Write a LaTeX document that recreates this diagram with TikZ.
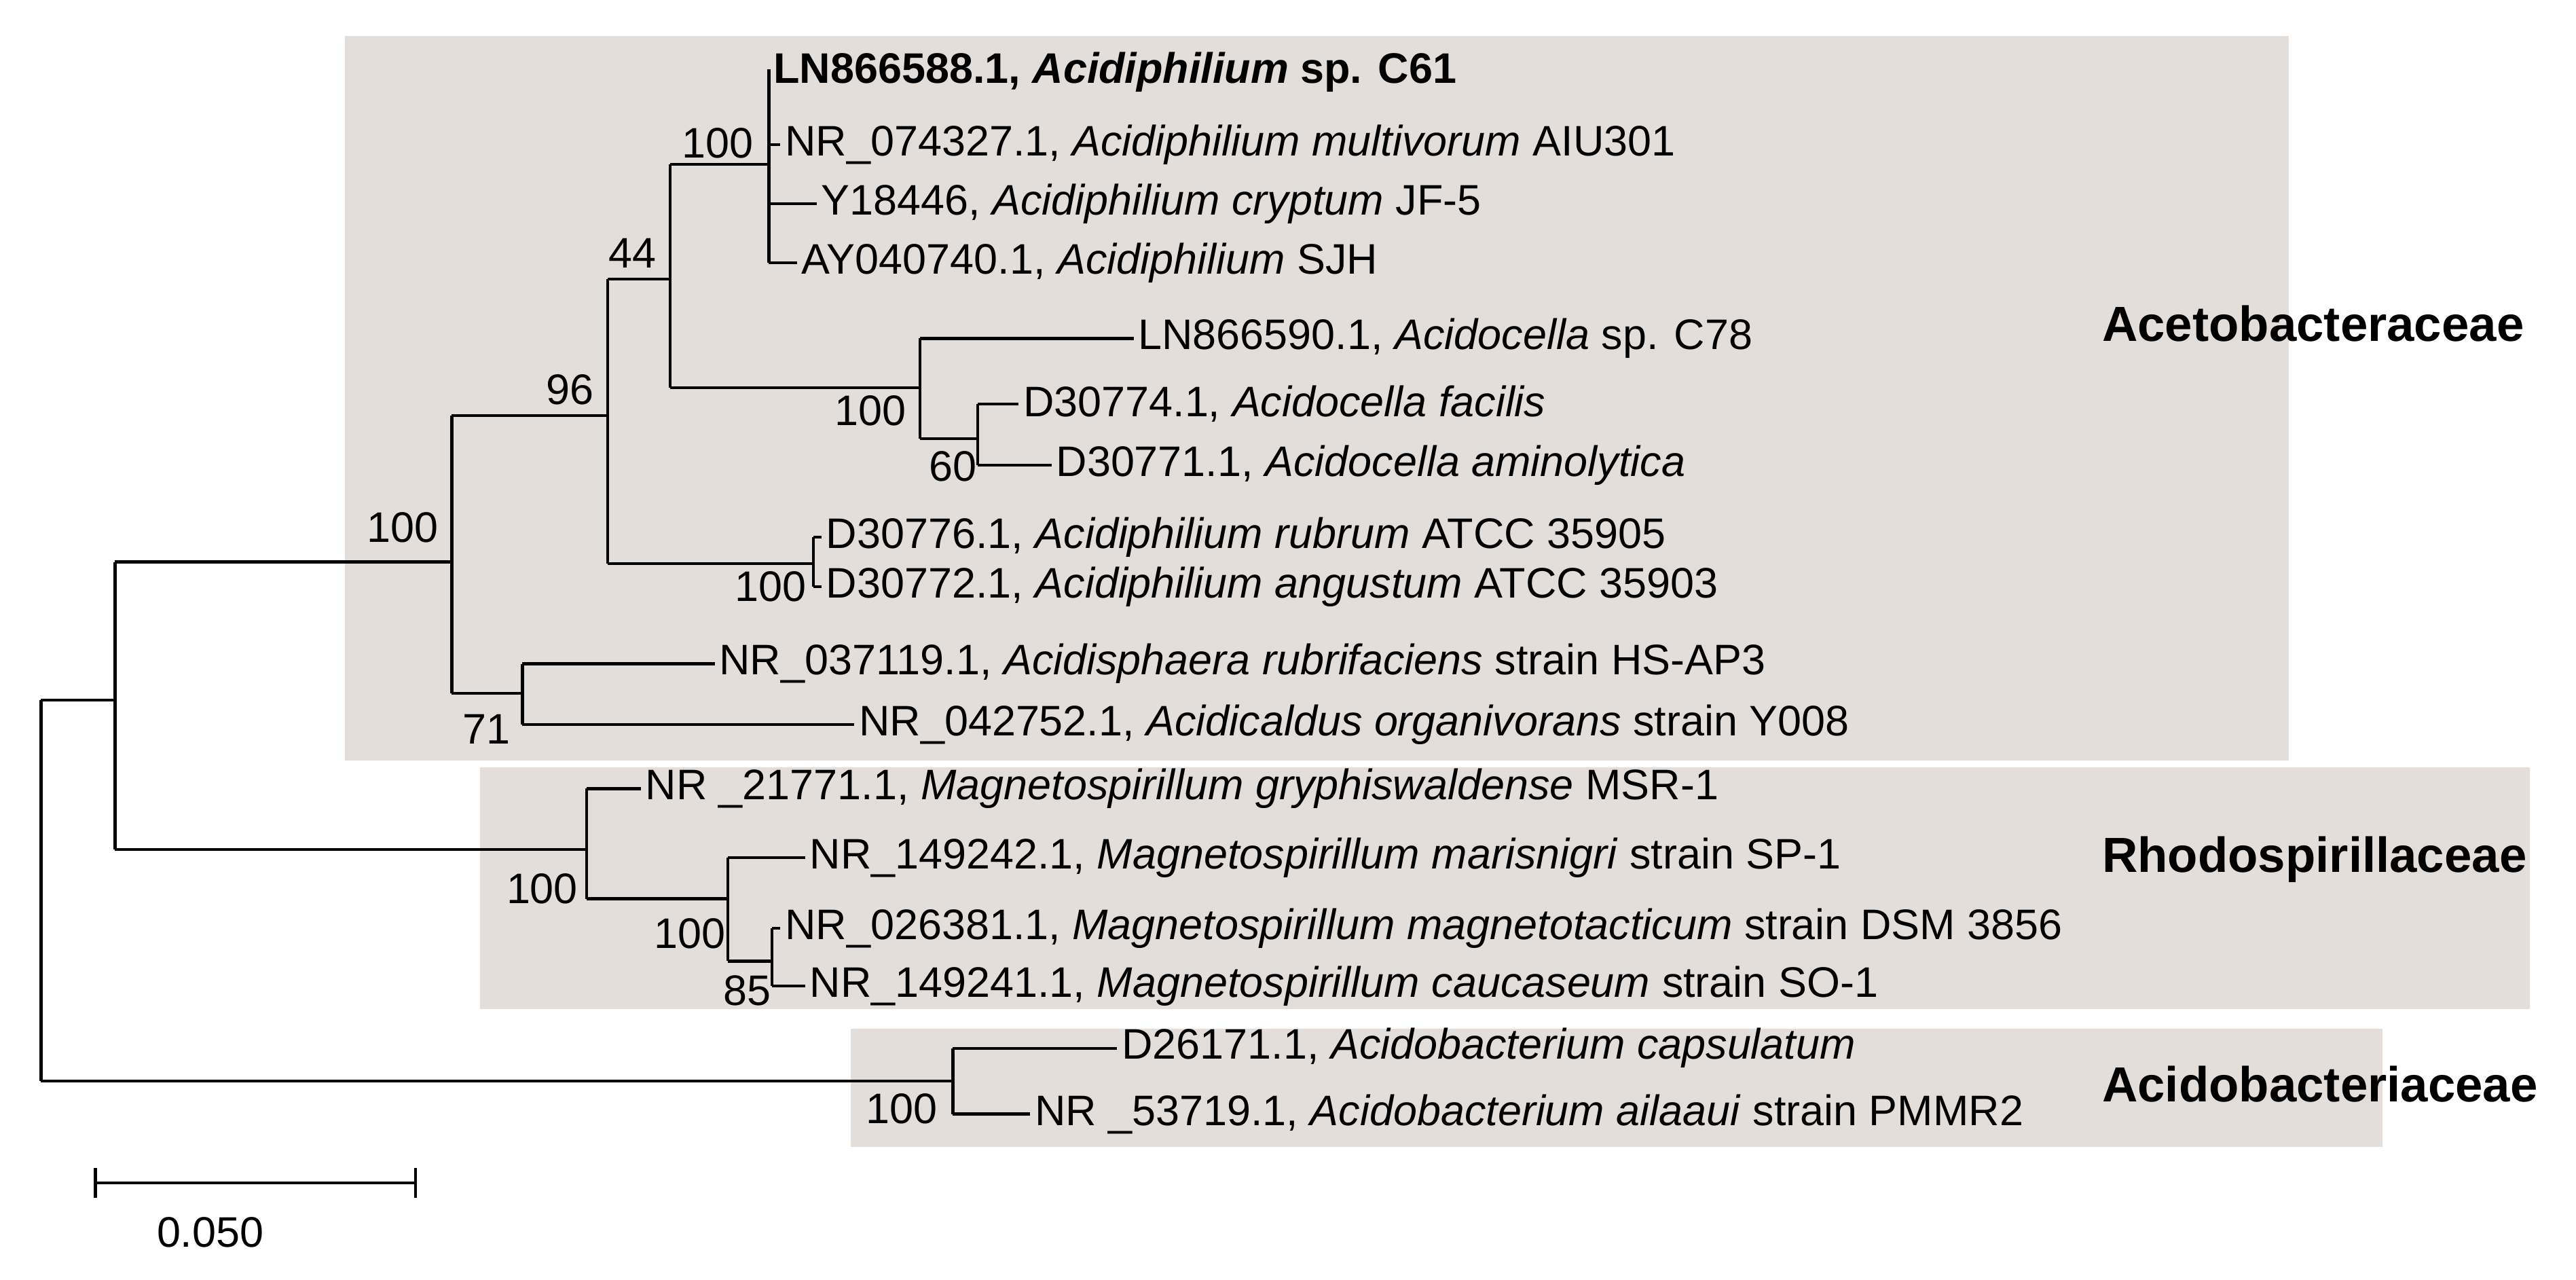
\documentclass[tikz,border=0pt]{standalone}
\usepackage{fontspec}
\setmainfont{Liberation Sans}
\begin{document}
\begin{tikzpicture}[x=0.5pt,y=-0.5pt,line width=0.9pt,
 leaf/.style={anchor=west,inner sep=1pt,font=\fontsize{13}{15}\selectfont},
 bs/.style={inner sep=1pt,font=\fontsize{13}{15}\selectfont},
 fam/.style={anchor=west,font=\fontsize{15}{17}\selectfont\bfseries}]
\useasboundingbox (0,0) rectangle (1568,779);
\definecolor{boxfill}{HTML}{E4DEDB}
\fill[boxfill] (210,22) rectangle (1393,463);
\fill[boxfill] (292,467) rectangle (1540,614);
\fill[boxfill] (518,626) rectangle (1450,698);
\coordinate (a) at (70,426);
\coordinate (b) at (275,342);
\coordinate (c) at (370,253);
\coordinate (d) at (408,170);
\coordinate (e) at (468,100);
\coordinate (f) at (560,236);
\coordinate (g) at (595,267);
\coordinate (h) at (495,343);
\coordinate (i) at (318,422);
\coordinate (j) at (357,517);
\coordinate (k) at (443,547);
\coordinate (l) at (470,585);
\coordinate (m) at (580,658);
% leaves
\node[leaf] (L1) at (468,44) {\textbf{LN866588.1, \textit{Acidiphilium} sp. C61}};
\node[leaf] (L2) at (475,88) {NR\_074327.1, \textit{Acidiphilium multivorum} AIU301};
\node[leaf] (L3) at (497,124) {Y18446, \textit{Acidiphilium cryptum} JF-5};
\node[leaf] (L4) at (485,160) {AY040740.1, \textit{Acidiphilium} SJH};
\node[leaf] (L5) at (690,206) {LN866590.1, \textit{Acidocella} sp. C78};
\node[leaf] (L6) at (620,246) {D30774.1, \textit{Acidocella facilis}};
\node[leaf] (L7) at (640,283) {D30771.1, \textit{Acidocella aminolytica}};
\node[leaf] (L8) at (500,327) {D30776.1, \textit{Acidiphilium rubrum} ATCC 35905};
\node[leaf] (L9) at (500,357) {D30772.1, \textit{Acidiphilium angustum} ATCC 35903};
\node[leaf] (L10) at (435,404) {NR\_037119.1, \textit{Acidisphaera rubrifaciens} strain HS-AP3};
\node[leaf] (L11) at (520,441) {NR\_042752.1, \textit{Acidicaldus organivorans} strain Y008};
\node[leaf] (L12) at (390,480) {NR \_21771.1, \textit{Magnetospirillum gryphiswaldense} MSR-1};
\node[leaf] (L13) at (490,522) {NR\_149242.1, \textit{Magnetospirillum marisnigri} strain SP-1};
\node[leaf] (L14) at (475,565) {NR\_026381.1, \textit{Magnetospirillum magnetotacticum} strain DSM 3856};
\node[leaf] (L15) at (490,600) {NR\_149241.1, \textit{Magnetospirillum caucaseum} strain SO-1};
\node[leaf] (L16) at (680,638) {D26171.1, \textit{Acidobacterium capsulatum}};
\node[leaf] (L17) at (627,678) {NR \_53719.1, \textit{Acidobacterium ailaaui} strain PMMR2};
% branches
\draw (25,426) -- (25,658);
\draw (25,426) -- (a);
\draw (25,658) -- (m);
\draw (70,342) -- (70,517);
\draw (70,342) -- (b);
\draw (70,517) -- (j);
\draw (275,253) -- (275,422);
\draw (275,253) -- (c);
\draw (275,422) -- (i);
\draw (370,170) -- (370,343);
\draw (370,170) -- (d);
\draw (370,343) -- (h);
\draw (408,100) -- (408,236);
\draw (408,100) -- (e);
\draw (408,236) -- (f);
\draw (468,42) -- (468,160);
\draw (468,88) -- (L2.west);
\draw (468,124) -- (L3.west);
\draw (468,160) -- (L4.west);
\draw (560,206) -- (560,267);
\draw (560,206) -- (L5.west);
\draw (560,267) -- (g);
\draw (595,246) -- (595,283);
\draw (595,246) -- (L6.west);
\draw (595,283) -- (L7.west);
\draw (495,327) -- (495,357);
\draw (495,327) -- (L8.west);
\draw (495,357) -- (L9.west);
\draw (318,404) -- (318,441);
\draw (318,404) -- (L10.west);
\draw (318,441) -- (L11.west);
\draw (357,480) -- (357,547);
\draw (357,480) -- (L12.west);
\draw (357,547) -- (k);
\draw (443,522) -- (443,585);
\draw (443,522) -- (L13.west);
\draw (443,585) -- (l);
\draw (470,565) -- (470,600);
\draw (470,565) -- (L14.west);
\draw (470,600) -- (L15.west);
\draw (580,638) -- (580,678);
\draw (580,638) -- (L16.west);
\draw (580,678) -- (L17.west);
% bootstrap
\node[bs] (s1) at (437,87) {100};
\node[bs] (s2) at (385,154) {44};
\node[bs] (s3) at (347,237) {96};
\node[bs] (s4) at (245,321) {100};
\node[bs] (s5) at (530,250) {100};
\node[bs] (s6) at (580,284) {60};
\node[bs] (s7) at (469,357) {100};
\node[bs] (s8) at (296,444) {71};
\node[bs] (s9) at (330,541) {100};
\node[bs] (s10) at (420,568) {100};
\node[bs] (s11) at (455,603) {85};
\node[bs] (s12) at (549,675) {100};
% families
\node[fam] (F1) at (1272,197) {Acetobacteraceae};
\node[fam] (F2) at (1272,523) {Rhodospirillaceae};
\node[fam] (F3) at (1272,660) {Acidobacteriaceae};
% scale bar
\coordinate (sb1) at (58,720);
\coordinate (sb2) at (253,720);
\draw (sb1) -- (sb2);
\draw (58,711) -- (58,729);
\draw (253,711) -- (253,729);
\node[bs] (sl) at (128,750) {0.050};
\end{tikzpicture}
\end{document}
